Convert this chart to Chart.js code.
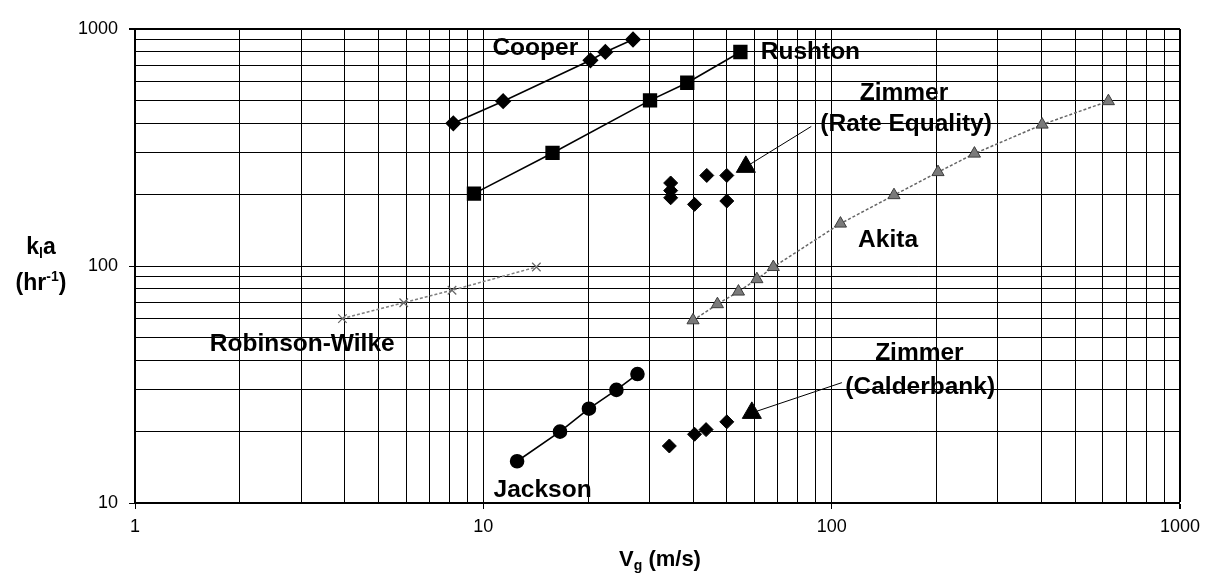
<!DOCTYPE html>
<html>
<head>
<meta charset="utf-8">
<script src="https://cdn.jsdelivr.net/npm/chart.js@4.4.0/dist/chart.umd.min.js"></script>
<style>
    html, body { margin: 0; padding: 0; background: #fff; }
    #wrap { width: 1207px; height: 574px; position: relative; }
</style>
</head>
<body>
<div id="wrap"><canvas id="chart"></canvas></div>
<script>
// axis ticks (log grid, labels only on decades)
const X_TICKS = [1, 2, 3, 4, 5, 6, 7, 8, 9, 10, 20, 30, 40, 50, 60, 70, 80, 90,
                 100, 200, 300, 400, 500, 600, 700, 800, 900, 1000];
const Y_TICKS = [10, 20, 30, 40, 50, 60, 70, 80, 90, 100, 200, 300, 400, 500,
                 600, 700, 800, 900, 1000];
const TICK_LABELS = ['1', '10', '100', '1000'];

// series
const COOPER_X  = [8.2, 11.4, 20.3, 22.4, 26.9];
const COOPER_Y  = [400, 496, 738, 800, 903];

const RUSHTON_X = [9.4, 15.8, 30.1, 38.5, 54.7];
const RUSHTON_Y = [202, 300, 500, 593, 800];

const ZIM_RATE_X = [34.5, 34.5, 34.5, 40.4, 43.8, 50, 50];
const ZIM_RATE_Y = [224, 208, 194, 182, 241, 241, 188];
const ZIM_RATE_ARROW_X = [87.4, 56.7];
const ZIM_RATE_ARROW_Y = [388, 262];

const AKITA_X = [40, 47, 54, 61, 68, 106, 151, 202, 257, 402, 623];
const AKITA_Y = [59, 69, 78, 88, 99, 151, 199, 249, 298, 395, 496];

const ROBWIL_X = [3.94, 5.91, 8.13, 14.2];
const ROBWIL_Y = [60, 70, 79, 99];

const JACKSON_X = [12.5, 16.6, 20.1, 24.1, 27.7];
const JACKSON_Y = [15, 20, 25, 30, 35];

const ZIM_CALD_X = [34.2, 40.4, 43.6, 50];
const ZIM_CALD_Y = [17.4, 19.5, 20.4, 22];
const ZIM_CALD_ARROW_X = [107, 59];
const ZIM_CALD_ARROW_Y = [32.2, 24];

// in-plot captions, anchored in data space
const CAPTION_TEXT = ['Cooper', 'Rushton', 'Zimmer', '(Rate Equality)', 'Akita',
                      'Robinson-Wilke', 'Jackson', 'Zimmer', '(Calderbank)'];
const CAPTION_X = [14.1, 86.9, 161.3, 163.6, 145.2, 3.02, 14.8, 178.6, 179.6];
const CAPTION_Y = [843, 811, 547, 403, 130.6, 47.6, 11.5, 43.6, 31.3];

const FONT = '"Liberation Sans", Arial, sans-serif';

const pts = (xs, ys) => xs.map((x, i) => ({ x, y: ys[i] }));
const isDecade = (v) => Math.abs(Math.log10(v) - Math.round(Math.log10(v))) < 1e-9;


function drawRich(ctx, parts, cx, baseline) {
    let total = 0;
    parts.forEach(p => {
        ctx.font = `bold ${p.size}px ${FONT}`;
        p.w = ctx.measureText(p.t).width;
        total += p.w;
    });
    let x = cx - total / 2;
    ctx.textAlign = 'left';
    ctx.textBaseline = 'alphabetic';
    parts.forEach(p => {
        ctx.font = `bold ${p.size}px ${FONT}`;
        ctx.fillText(p.t, x, baseline + (p.dy || 0));
        x += p.w;
    });
}

const annotations = {
    id : 'annotations',
    afterDatasetsDraw(chart) {
        const { ctx, scales } = chart;
        ctx.save();
        ctx.fillStyle = '#000';

        const size = 24.5;
        ctx.font = `bold ${size}px ${FONT}`;
        ctx.textAlign = 'center';
        ctx.textBaseline = 'alphabetic';
        CAPTION_TEXT.forEach((t, i) => {
            const px = scales.x.getPixelForValue(CAPTION_X[i]);
            const py = scales.y.getPixelForValue(CAPTION_Y[i]);
            ctx.fillText(t, px, py + size * 0.36);
        });

        // axis titles
        drawRich(ctx, [
            { t: 'k', size: 23 },
            { t: 'l', size: 14, dy: 4 },
            { t: 'a', size: 23 },
        ], 41, 254);
        drawRich(ctx, [
            { t: '(hr', size: 23 },
            { t: '-1', size: 14, dy: -9 },
            { t: ')', size: 23 },
        ], 41, 290);
        drawRich(ctx, [
            { t: 'V', size: 22 },
            { t: 'g', size: 14, dy: 4 },
            { t: ' (m/s)', size: 22 },
        ], 660, 566);

        ctx.restore();
    },
};

const gridWidth = (max) => (c) => (c.tick && c.tick.value === max ? 2 : 1);
const tickColor = (c) => (c.tick && isDecade(c.tick.value) ? '#000' : 'rgba(0,0,0,0)');

function init() {
    const ctx = document.getElementById('chart').getContext('2d');

    new Chart(ctx, {
        type : 'scatter',
        data : {
            datasets : [
                {
                    data            : pts(COOPER_X, COOPER_Y),
                    showLine        : true,
                    borderColor     : '#000',
                    borderWidth     : 1.6,
                    pointStyle      : 'rectRot',
                    pointRadius     : 7,
                    backgroundColor : '#000',
                },
                {
                    data            : pts(RUSHTON_X, RUSHTON_Y),
                    showLine        : true,
                    borderColor     : '#000',
                    borderWidth     : 1.6,
                    pointStyle      : 'rect',
                    pointRadius     : 9,
                    backgroundColor : '#000',
                },
                {
                    data            : pts(ZIM_RATE_X, ZIM_RATE_Y),
                    showLine        : false,
                    pointStyle      : 'rectRot',
                    pointRadius     : 7,
                    borderColor     : '#000',
                    backgroundColor : '#000',
                },
                {
                    data                 : pts(ZIM_RATE_ARROW_X, ZIM_RATE_ARROW_Y),
                    showLine             : true,
                    borderColor          : '#000',
                    borderWidth          : 1,
                    pointStyle           : 'triangle',
                    pointRadius          : [0, 11],
                    pointBackgroundColor : '#000',
                    pointBorderColor     : '#000',
                },
                {
                    data             : pts(AKITA_X, AKITA_Y),
                    showLine         : true,
                    borderColor      : '#666',
                    borderWidth      : 1.5,
                    borderDash       : [3, 2],
                    pointStyle       : 'triangle',
                    pointRadius      : 7,
                    backgroundColor  : '#7a7a7a',
                    pointBorderColor : '#3c3c3c',
                    pointBorderWidth : 1,
                },
                {
                    data             : pts(ROBWIL_X, ROBWIL_Y),
                    showLine         : true,
                    borderColor      : '#808080',
                    borderWidth      : 1.5,
                    borderDash       : [3, 2],
                    pointStyle       : 'crossRot',
                    pointRadius      : 6,
                    pointBorderColor : '#666',
                    pointBorderWidth : 1.2,
                },
                {
                    data            : pts(JACKSON_X, JACKSON_Y),
                    showLine        : true,
                    borderColor     : '#000',
                    borderWidth     : 1.6,
                    pointStyle      : 'circle',
                    pointRadius     : 6.5,
                    backgroundColor : '#000',
                },
                {
                    data            : pts(ZIM_CALD_X, ZIM_CALD_Y),
                    showLine        : false,
                    pointStyle      : 'rectRot',
                    pointRadius     : 7,
                    borderColor     : '#000',
                    backgroundColor : '#000',
                },
                {
                    data                 : pts(ZIM_CALD_ARROW_X, ZIM_CALD_ARROW_Y),
                    showLine             : true,
                    borderColor          : '#000',
                    borderWidth          : 1,
                    pointStyle           : 'triangle',
                    pointRadius          : [0, 11],
                    pointBackgroundColor : '#000',
                    pointBorderColor     : '#000',
                },
            ],
        },
        options : {
            responsive          : true,
            maintainAspectRatio : false,
            animation           : false,
            layout              : { padding: { left: 0, top: 29, right: 23, bottom: 0 } },
            plugins : {
                legend  : { display: false },
                tooltip : { enabled: false },
            },
            scales : {
                x : {
                    type     : 'logarithmic',
                    position : 'bottom',
                    min      : 1,
                    max      : 1000,
                    afterBuildTicks : (s) => { s.ticks = X_TICKS.map(v => ({ value: v, major: isDecade(v) })); },
                    afterFit        : (s) => { s.height = 71; },
                    grid   : { color: '#000', lineWidth: gridWidth(1000), tickLength: 6, tickColor },
                    border : { display: true, color: '#000', width: 2 },
                    ticks  : {
                        autoSkip    : false,
                        maxRotation : 0,
                        padding     : 7,
                        color       : '#000',
                        font        : { family: FONT, size: 18 },
                        callback    : (v) => (isDecade(v) ? TICK_LABELS[Math.round(Math.log10(v))] : ''),
                    },
                },
                y : {
                    type     : 'logarithmic',
                    position : 'left',
                    min      : 10,
                    max      : 1000,
                    afterBuildTicks : (s) => { s.ticks = Y_TICKS.map(v => ({ value: v, major: isDecade(v) })); },
                    afterFit        : (s) => { s.width = 135; },
                    grid   : { color: '#000', lineWidth: gridWidth(1000), tickLength: 6, tickColor },
                    border : { display: true, color: '#000', width: 2 },
                    ticks  : {
                        autoSkip : false,
                        padding  : 11,
                        color    : '#000',
                        font     : { family: FONT, size: 18 },
                        callback : (v) => (isDecade(v) ? TICK_LABELS[Math.round(Math.log10(v))] : ''),
                    },
                },
            },
        },
        plugins : [annotations],
    });
}

document.addEventListener('DOMContentLoaded', init);
</script>
</body>
</html>
